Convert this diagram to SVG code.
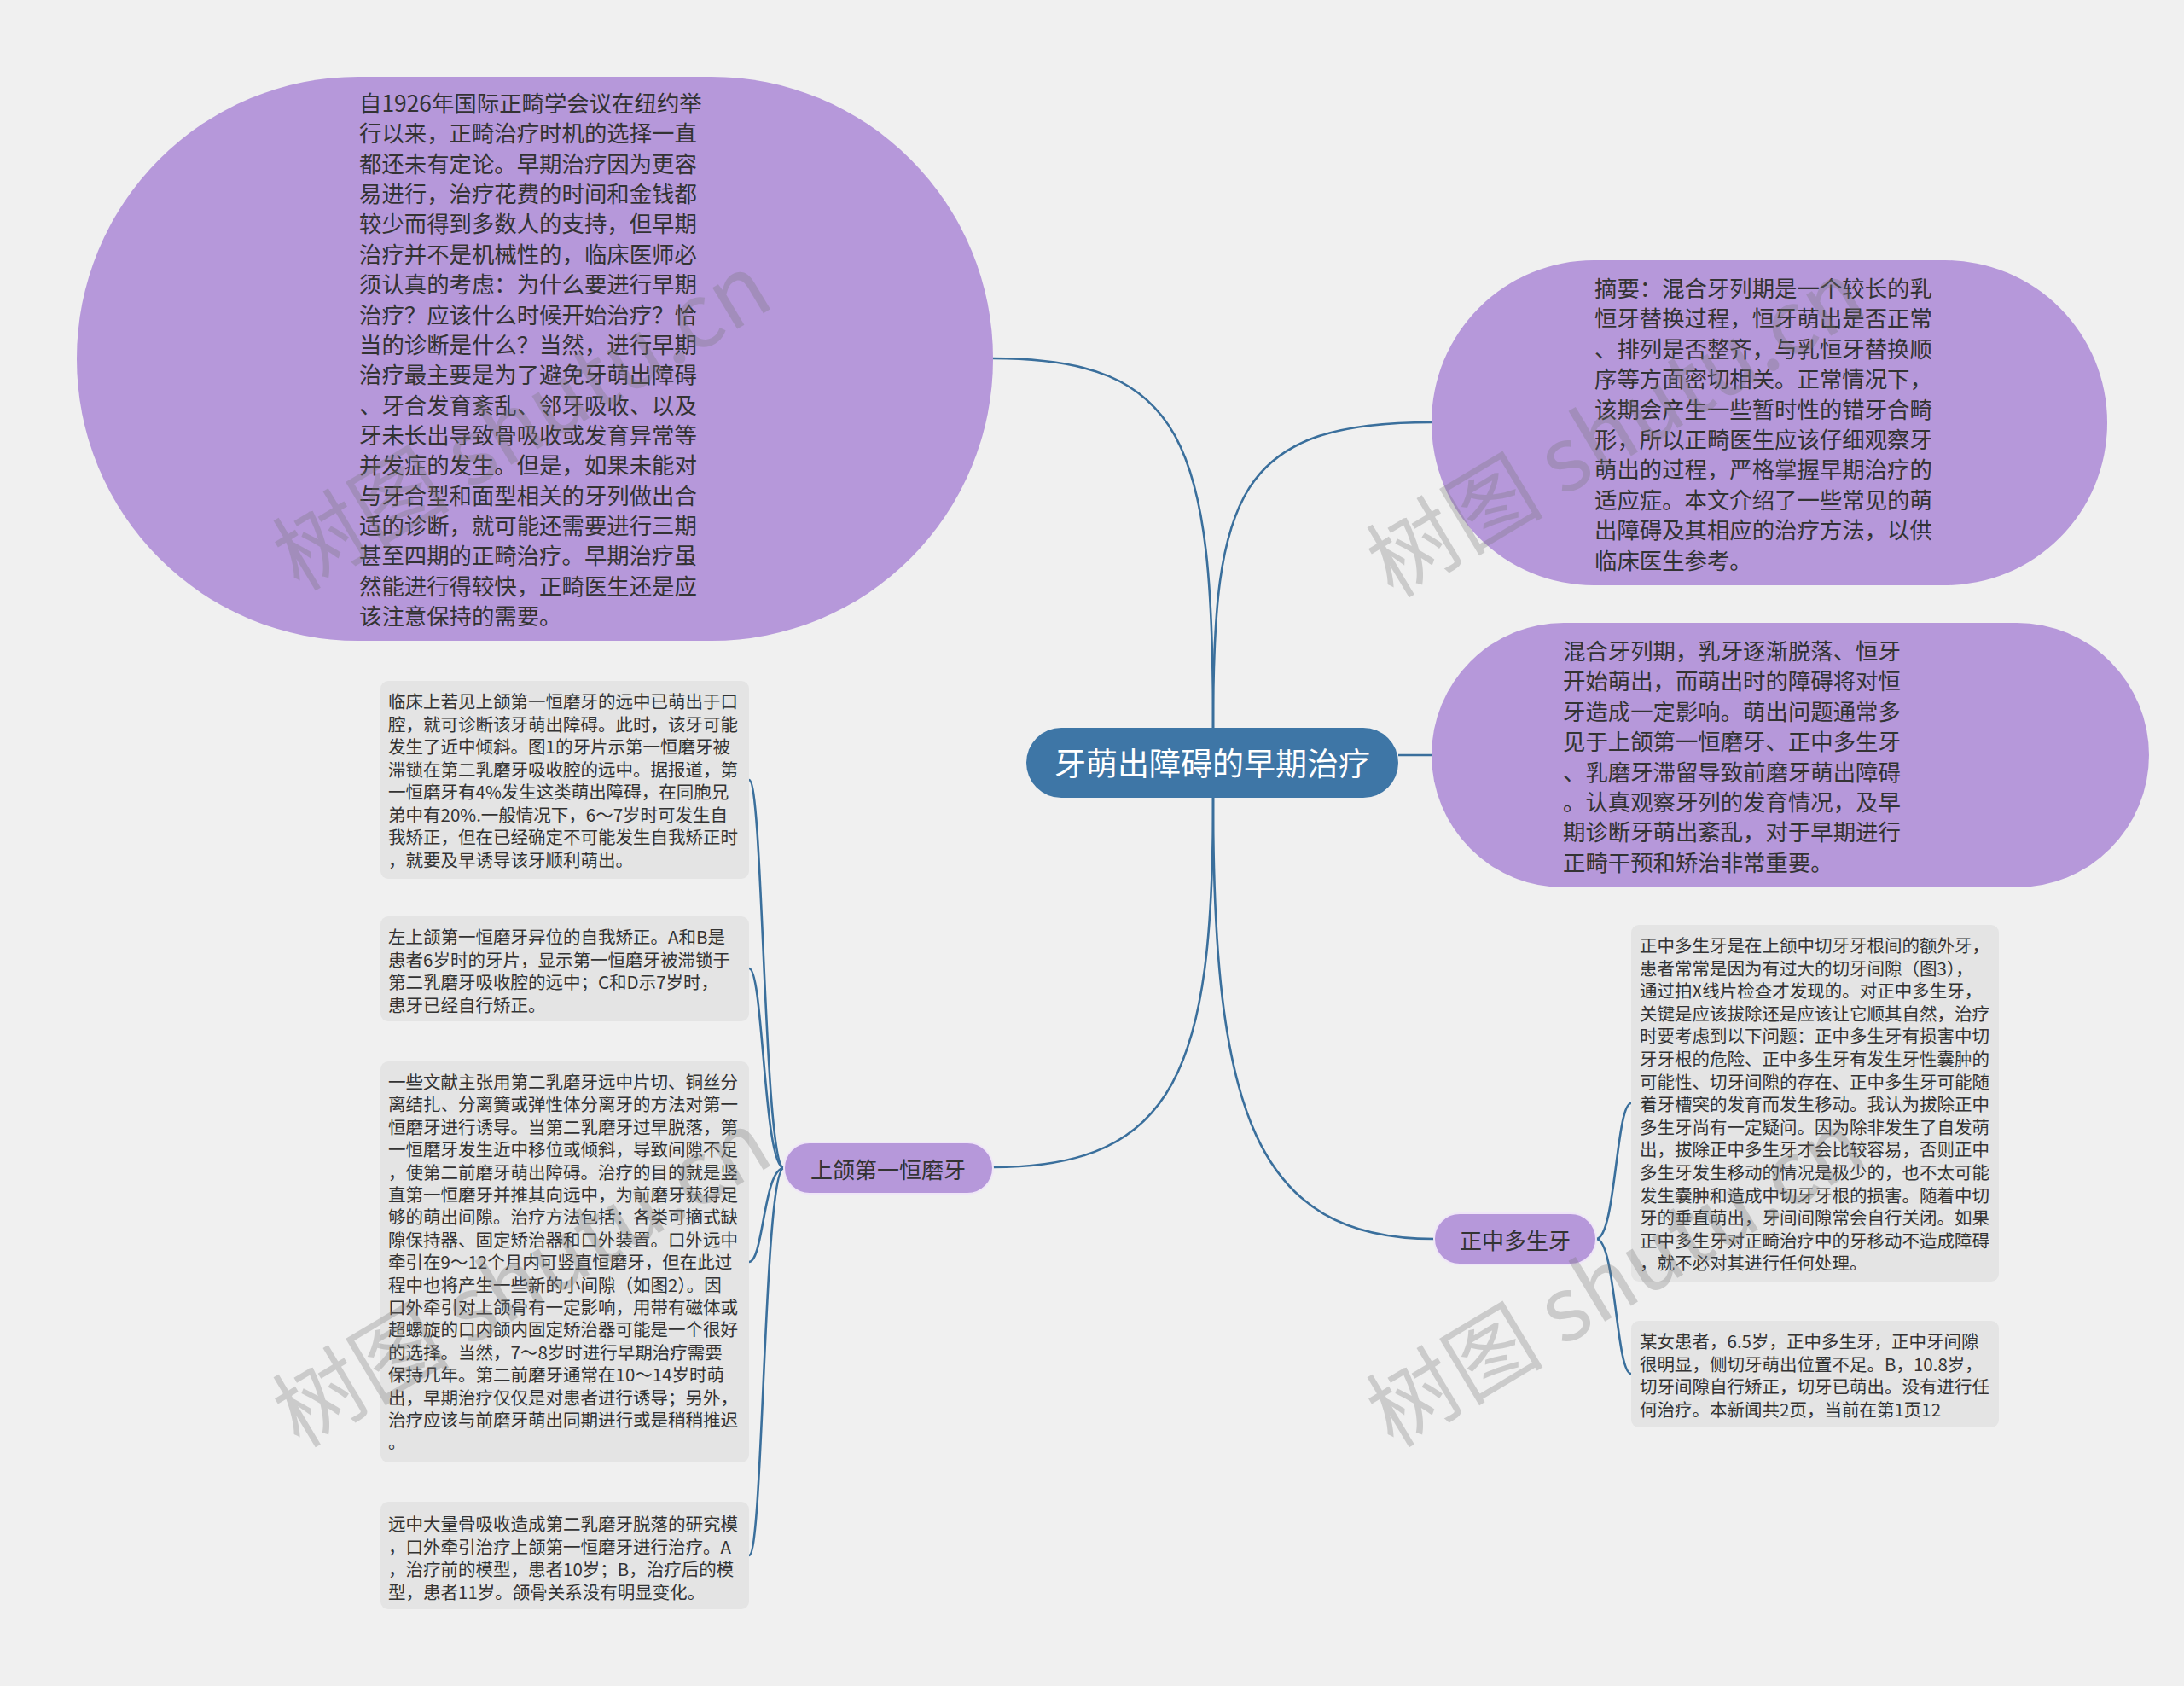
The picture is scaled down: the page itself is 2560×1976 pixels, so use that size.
<svg xmlns="http://www.w3.org/2000/svg" width="2560" height="1976" viewBox="0 0 2560 1976">
<style>
.bg{fill:#f0f0f0}
.big{fill:#b698da}
.root{fill:#3e76a6}
.sub{fill:#b698da;stroke:#efe6f7;stroke-width:2}
.leaf{fill:#e4e4e4}
.t{font-family:"Noto Sans CJK SC","Noto Sans",sans-serif;fill:#333;dominant-baseline:central}
.tb{font-size:26.4px}
.tl{font-size:20.5px}
.tr{font-family:"Noto Sans CJK SC","Noto Sans",sans-serif;fill:#ffffff;font-size:37px;text-anchor:middle;dominant-baseline:central}
.ts{font-family:"Noto Sans CJK SC","Noto Sans",sans-serif;fill:#333;font-size:26px;text-anchor:middle;dominant-baseline:central}
.c{fill:none;stroke:#3a6f9c;stroke-width:2.6}
.wm{font-family:"Noto Sans CJK SC","Noto Sans",sans-serif;font-size:104px;fill:#777;opacity:0.3}
</style>
<rect class="bg" x="0" y="0" width="2560" height="1976"/>

<g id="connectors">
<path class="c" d="M1422,853 C1422,520 1390,420 1164,420"/>
<path class="c" d="M1422,853 C1422,580 1450,495 1678,495"/>
<path class="c" d="M1639,885 L1678,885"/>
<path class="c" d="M1422,935 C1422,1250 1380,1368 1164,1368"/>
<path class="c" d="M1422,935 C1422,1300 1470,1452 1681,1452"/>
<path class="c" d="M919,1369 C895,1369 895,914 878,914"/>
<path class="c" d="M919,1369 C895,1369 895,1135 878,1135"/>
<path class="c" d="M919,1369 C895,1369 895,1479 878,1479"/>
<path class="c" d="M919,1369 C895,1369 895,1823 878,1823"/>
<path class="c" d="M1871,1452 C1894,1452 1894,1293 1912,1293"/>
<path class="c" d="M1871,1452 C1894,1452 1894,1610 1912,1610"/>
</g>

<g id="root">
<rect class="root" x="1203" y="853" width="436" height="82" rx="41"/>
<text class="tr" x="1421" y="893">牙萌出障碍的早期治疗</text>
</g>

<g id="node-top-left">
<rect class="big" x="90" y="90" width="1074" height="661" rx="330"/>
<text class="t tb">
<tspan x="421" y="119">自1926年国际正畸学会议在纽约举</tspan>
<tspan x="421" y="154.4">行以来，正畸治疗时机的选择一直</tspan>
<tspan x="421" y="189.7">都还未有定论。早期治疗因为更容</tspan>
<tspan x="421" y="225.1">易进行，治疗花费的时间和金钱都</tspan>
<tspan x="421" y="260.4">较少而得到多数人的支持，但早期</tspan>
<tspan x="421" y="295.8">治疗并不是机械性的，临床医师必</tspan>
<tspan x="421" y="331.1">须认真的考虑：为什么要进行早期</tspan>
<tspan x="421" y="366.5">治疗？应该什么时候开始治疗？恰</tspan>
<tspan x="421" y="401.8">当的诊断是什么？当然，进行早期</tspan>
<tspan x="421" y="437.2">治疗最主要是为了避免牙萌出障碍</tspan>
<tspan x="421" y="472.5">、牙合发育紊乱、邻牙吸收、以及</tspan>
<tspan x="421" y="507.9">牙未长出导致骨吸收或发育异常等</tspan>
<tspan x="421" y="543.2">并发症的发生。但是，如果未能对</tspan>
<tspan x="421" y="578.6">与牙合型和面型相关的牙列做出合</tspan>
<tspan x="421" y="613.9">适的诊断，就可能还需要进行三期</tspan>
<tspan x="421" y="649.3">甚至四期的正畸治疗。早期治疗虽</tspan>
<tspan x="421" y="684.6">然能进行得较快，正畸医生还是应</tspan>
<tspan x="421" y="720">该注意保持的需要。</tspan>
</text>
</g>

<g id="node-top-right">
<rect class="big" x="1678" y="305" width="792" height="381" rx="190"/>
<text class="t tb">
<tspan x="1869" y="336">摘要：混合牙列期是一个较长的乳</tspan>
<tspan x="1869" y="371.4">恒牙替换过程，恒牙萌出是否正常</tspan>
<tspan x="1869" y="406.8">、排列是否整齐，与乳恒牙替换顺</tspan>
<tspan x="1869" y="442.2">序等方面密切相关。正常情况下，</tspan>
<tspan x="1869" y="477.6">该期会产生一些暂时性的错牙合畸</tspan>
<tspan x="1869" y="513">形，所以正畸医生应该仔细观察牙</tspan>
<tspan x="1869" y="548.4">萌出的过程，严格掌握早期治疗的</tspan>
<tspan x="1869" y="583.8">适应症。本文介绍了一些常见的萌</tspan>
<tspan x="1869" y="619.2">出障碍及其相应的治疗方法，以供</tspan>
<tspan x="1869" y="654.6">临床医生参考。</tspan>
</text>
</g>

<g id="node-mid-right">
<rect class="big" x="1678" y="730" width="841" height="310" rx="155"/>
<text class="t tb">
<tspan x="1832" y="761">混合牙列期，乳牙逐渐脱落、恒牙</tspan>
<tspan x="1832" y="796.4">开始萌出，而萌出时的障碍将对恒</tspan>
<tspan x="1832" y="831.8">牙造成一定影响。萌出问题通常多</tspan>
<tspan x="1832" y="867.2">见于上颌第一恒磨牙、正中多生牙</tspan>
<tspan x="1832" y="902.6">、乳磨牙滞留导致前磨牙萌出障碍</tspan>
<tspan x="1832" y="938">。认真观察牙列的发育情况，及早</tspan>
<tspan x="1832" y="973.4">期诊断牙萌出紊乱，对于早期进行</tspan>
<tspan x="1832" y="1008.8">正畸干预和矫治非常重要。</tspan>
</text>
</g>

<g id="node-molar">
<rect class="sub" x="919" y="1339" width="245" height="60" rx="30"/>
<text class="ts" x="1041" y="1369">上颌第一恒磨牙</text>
</g>

<g id="node-mesiodens">
<rect class="sub" x="1681" y="1422" width="190" height="60" rx="30"/>
<text class="ts" x="1776" y="1452">正中多生牙</text>
</g>

<g id="leaf-l1">
<rect class="leaf" x="446" y="798" width="432" height="232" rx="9"/>
<text class="t tl">
<tspan x="455" y="821">临床上若见上颌第一恒磨牙的远中已萌出于口</tspan>
<tspan x="455" y="847.5">腔，就可诊断该牙萌出障碍。此时，该牙可能</tspan>
<tspan x="455" y="874">发生了近中倾斜。图1的牙片示第一恒磨牙被</tspan>
<tspan x="455" y="900.5">滞锁在第二乳磨牙吸收腔的远中。据报道，第</tspan>
<tspan x="455" y="927">一恒磨牙有4%发生这类萌出障碍，在同胞兄</tspan>
<tspan x="455" y="953.5">弟中有20%.一般情况下，6～7岁时可发生自</tspan>
<tspan x="455" y="980">我矫正，但在已经确定不可能发生自我矫正时</tspan>
<tspan x="455" y="1006.5">，就要及早诱导该牙顺利萌出。</tspan>
</text>
</g>

<g id="leaf-l2">
<rect class="leaf" x="446" y="1074" width="432" height="123" rx="9"/>
<text class="t tl">
<tspan x="455" y="1097">左上颌第一恒磨牙异位的自我矫正。A和B是</tspan>
<tspan x="455" y="1123.5">患者6岁时的牙片，显示第一恒磨牙被滞锁于</tspan>
<tspan x="455" y="1150">第二乳磨牙吸收腔的远中；C和D示7岁时，</tspan>
<tspan x="455" y="1176.5">患牙已经自行矫正。</tspan>
</text>
</g>

<g id="leaf-l3">
<rect class="leaf" x="446" y="1244" width="432" height="470" rx="9"/>
<text class="t tl">
<tspan x="455" y="1267">一些文献主张用第二乳磨牙远中片切、铜丝分</tspan>
<tspan x="455" y="1293.4">离结扎、分离簧或弹性体分离牙的方法对第一</tspan>
<tspan x="455" y="1319.8">恒磨牙进行诱导。当第二乳磨牙过早脱落，第</tspan>
<tspan x="455" y="1346.2">一恒磨牙发生近中移位或倾斜，导致间隙不足</tspan>
<tspan x="455" y="1372.6">，使第二前磨牙萌出障碍。治疗的目的就是竖</tspan>
<tspan x="455" y="1399">直第一恒磨牙并推其向远中，为前磨牙获得足</tspan>
<tspan x="455" y="1425.4">够的萌出间隙。治疗方法包括：各类可摘式缺</tspan>
<tspan x="455" y="1451.8">隙保持器、固定矫治器和口外装置。口外远中</tspan>
<tspan x="455" y="1478.2">牵引在9～12个月内可竖直恒磨牙，但在此过</tspan>
<tspan x="455" y="1504.6">程中也将产生一些新的小间隙（如图2）。因</tspan>
<tspan x="455" y="1531">口外牵引对上颌骨有一定影响，用带有磁体或</tspan>
<tspan x="455" y="1557.4">超螺旋的口内颌内固定矫治器可能是一个很好</tspan>
<tspan x="455" y="1583.8">的选择。当然，7～8岁时进行早期治疗需要</tspan>
<tspan x="455" y="1610.2">保持几年。第二前磨牙通常在10～14岁时萌</tspan>
<tspan x="455" y="1636.6">出，早期治疗仅仅是对患者进行诱导；另外，</tspan>
<tspan x="455" y="1663">治疗应该与前磨牙萌出同期进行或是稍稍推迟</tspan>
<tspan x="455" y="1689.4">。</tspan>
</text>
</g>

<g id="leaf-l4">
<rect class="leaf" x="446" y="1760" width="432" height="126" rx="9"/>
<text class="t tl">
<tspan x="455" y="1785">远中大量骨吸收造成第二乳磨牙脱落的研究模</tspan>
<tspan x="455" y="1811.5">，口外牵引治疗上颌第一恒磨牙进行治疗。A</tspan>
<tspan x="455" y="1838">，治疗前的模型，患者10岁；B，治疗后的模</tspan>
<tspan x="455" y="1864.5">型，患者11岁。颌骨关系没有明显变化。</tspan>
</text>
</g>

<g id="leaf-r1">
<rect class="leaf" x="1912" y="1084" width="431" height="418" rx="9"/>
<text class="t tl">
<tspan x="1922" y="1107">正中多生牙是在上颌中切牙牙根间的额外牙，</tspan>
<tspan x="1922" y="1133.6">患者常常是因为有过大的切牙间隙（图3），</tspan>
<tspan x="1922" y="1160.2">通过拍X线片检查才发现的。对正中多生牙，</tspan>
<tspan x="1922" y="1186.8">关键是应该拔除还是应该让它顺其自然，治疗</tspan>
<tspan x="1922" y="1213.4">时要考虑到以下问题：正中多生牙有损害中切</tspan>
<tspan x="1922" y="1240">牙牙根的危险、正中多生牙有发生牙性囊肿的</tspan>
<tspan x="1922" y="1266.6">可能性、切牙间隙的存在、正中多生牙可能随</tspan>
<tspan x="1922" y="1293.2">着牙槽突的发育而发生移动。我认为拔除正中</tspan>
<tspan x="1922" y="1319.8">多生牙尚有一定疑问。因为除非发生了自发萌</tspan>
<tspan x="1922" y="1346.4">出，拔除正中多生牙才会比较容易，否则正中</tspan>
<tspan x="1922" y="1373">多生牙发生移动的情况是极少的，也不太可能</tspan>
<tspan x="1922" y="1399.6">发生囊肿和造成中切牙牙根的损害。随着中切</tspan>
<tspan x="1922" y="1426.2">牙的垂直萌出，牙间间隙常会自行关闭。如果</tspan>
<tspan x="1922" y="1452.8">正中多生牙对正畸治疗中的牙移动不造成障碍</tspan>
<tspan x="1922" y="1479.4">，就不必对其进行任何处理。</tspan>
</text>
</g>

<g id="leaf-r2">
<rect class="leaf" x="1912" y="1548" width="431" height="125" rx="9"/>
<text class="t tl">
<tspan x="1922" y="1571">某女患者，6.5岁，正中多生牙，正中牙间隙</tspan>
<tspan x="1922" y="1597.5">很明显，侧切牙萌出位置不足。B，10.8岁，</tspan>
<tspan x="1922" y="1624">切牙间隙自行矫正，切牙已萌出。没有进行任</tspan>
<tspan x="1922" y="1650.5">何治疗。本新闻共2页，当前在第1页12</tspan>
</text>
</g>

<g id="watermark">
<text class="wm" transform="translate(351,694) rotate(-31)">树图 shutu.cn</text>
<text class="wm" transform="translate(1633,702) rotate(-31)">树图 shutu.cn</text>
<text class="wm" transform="translate(351,1698) rotate(-31)">树图 shutu.cn</text>
<text class="wm" transform="translate(1633,1698) rotate(-31)">树图 shutu.cn</text>
</g>
</svg>
